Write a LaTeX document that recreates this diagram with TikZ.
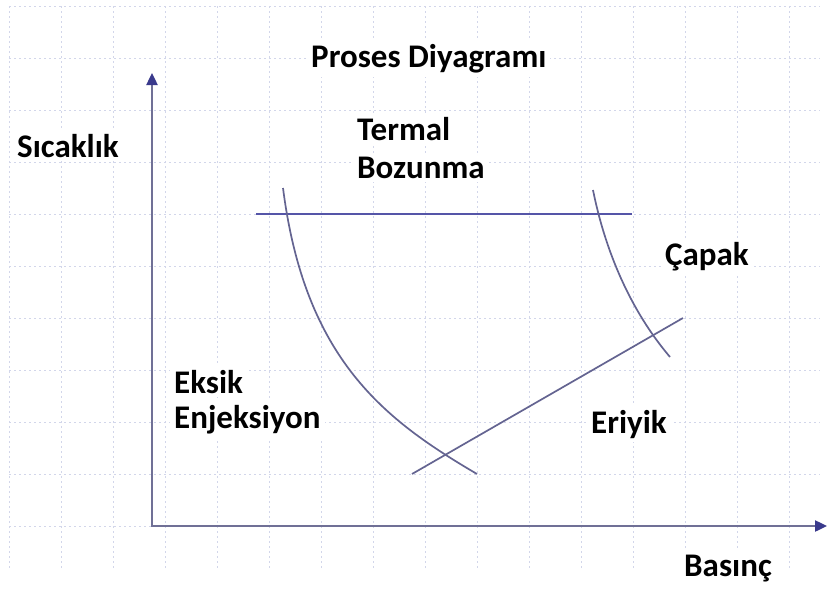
\documentclass[tikz,border=0pt]{standalone}
\usepackage{fontspec}
\setmainfont{Carlito}
\usetikzlibrary{arrows.meta}
\definecolor{gridc}{RGB}{210,214,234}
\definecolor{axisc}{RGB}{112,112,150}
\definecolor{tipc}{RGB}{58,58,140}
\definecolor{curvec}{RGB}{100,100,145}
\definecolor{hlinec}{RGB}{85,85,168}
\begin{document}
\begin{tikzpicture}[x=1pt,y=-1pt,
  gridline/.style={draw=gridc,line width=1pt,dash pattern=on 2pt off 3pt},
  axisline/.style={draw=axisc,line width=2.4pt},
  curve/.style={draw=curvec,line width=1.7pt},
  lbl/.style={font=\bfseries\fontsize{33}{39}\selectfont,anchor=base west,inner sep=4pt,fill=white,text=black}]
\useasboundingbox (0,0) rectangle (831,589);
\fill[white] (0,0) rectangle (831,589);
% background grid
\foreach \x in {9,61,...,789} \draw[gridline] (\x,6) -- (\x,570);
\foreach \y in {6,58,...,526} \draw[gridline] (9,\y) -- (820,\y);
% labels
\node[lbl] (title) at (307,67) {Proses Diyagramı};
\node[lbl] (ylab) at (13,157) {Sıcaklık};
\node[lbl] (termal) at (353,140) {Termal};
\node[lbl] (bozunma) at (353,178) {Bozunma};
\node[lbl] (capak) at (661,265) {Çapak};
\node[lbl] (eksik) at (170,393) {Eksik};
\node[lbl] (enjeksiyon) at (170,428) {Enjeksiyon};
\node[lbl] (eriyik) at (587,433) {Eriyik};
\node[lbl] (xlab) at (680,576) {Basınç};
% axes
\coordinate (O) at (152,526);
\coordinate (ytop) at (152,73);
\coordinate (xend) at (827,526);
\draw[axisline,{Triangle[length=12pt,width=11pt,color=tipc]}-{Triangle[length=12pt,width=11pt,color=tipc]}] (ytop) -- (O) -- (xend);
% thermal degradation line
\coordinate (h1) at (256,214);
\coordinate (h2) at (632,214);
\draw[draw=hlinec,line width=1.8pt] (h1) -- (h2);
% short shot curve
\coordinate (l1) at (283,188);
\coordinate (l2) at (477,474);
\draw[curve] (l1) .. controls (305,360) and (385,420) .. (l2);
% flash curve
\coordinate (r1) at (593,190);
\coordinate (r2) at (670,357);
\draw[curve] (r1) .. controls (605,250) and (630,310) .. (r2);
% melt line
\coordinate (m1) at (412,474);
\coordinate (m2) at (683,318);
\draw[curve] (m1) -- (m2);
\end{tikzpicture}
\end{document}
